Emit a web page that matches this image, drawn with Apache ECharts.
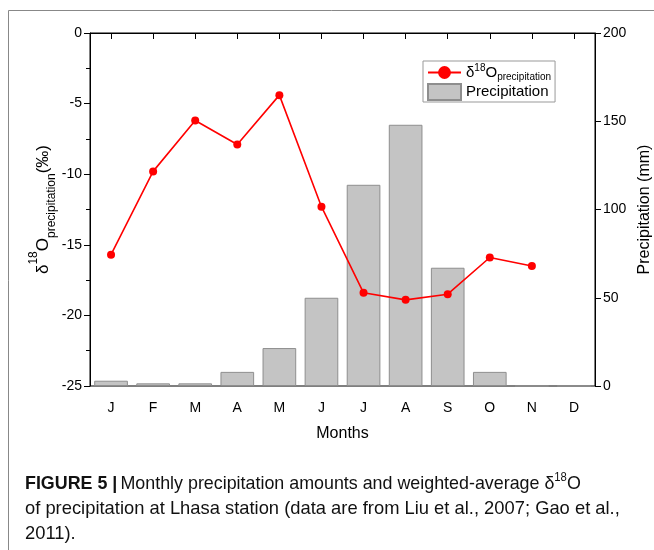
<!DOCTYPE html>
<html>
<head>
<meta charset="utf-8">
<script src="https://cdn.jsdelivr.net/npm/echarts@6/dist/echarts.min.js"></script>
<style>
  html, body { margin: 0; padding: 0; background: #fff; }
  #chart { width: 654px; height: 550px; }
</style>
</head>
<body>
<div id="chart"></div>
<script>
// Months along the x axis
const months = ['J', 'F', 'M', 'A', 'M', 'J', 'J', 'A', 'S', 'O', 'N', 'D'];
// Monthly precipitation amount (mm), right axis
const precipitation = [3, 1.5, 1.5, 8, 21.5, 50, 114, 148, 67, 8, 0, 0];
// Weighted-average δ18O of precipitation (‰), left axis
const delta18O = [-15.7, -9.8, -6.2, -7.9, -4.4, -12.3, -18.4, -18.9, -18.5, -15.9, -16.5, null];
// Axis tick settings
const leftTicks = { min: -25, max: 0, interval: 5 };
const rightTicks = { min: 0, max: 200, interval: 50 };

const FONT = 'Liberation Sans, Arial, sans-serif';
const chart = echarts.init(document.getElementById('chart'), null, { renderer: 'canvas' });

const axisCommon = {
  axisLine: { show: true, lineStyle: { color: '#000', width: 1 } },
  splitLine: { show: false },
  axisLabel: { color: '#000', fontFamily: FONT, fontSize: 14 }
};

// rich-text styles for "δ18O" with super/subscripts
function isoRich(main, small, lh) {
  return {
    m: { fontSize: main, fontFamily: FONT, color: '#000', lineHeight: lh },
    sup: { fontSize: small, fontFamily: FONT, color: '#000', verticalAlign: 'top', lineHeight: small + 1 },
    sub: { fontSize: small, fontFamily: FONT, color: '#000', verticalAlign: 'bottom', lineHeight: small + 2 },
    p: { fontSize: main, fontFamily: FONT, color: '#000', lineHeight: lh }
  };
}

chart.setOption({
  animation: false,
  backgroundColor: '#fff',
  grid: {
    left: 90, right: 59, top: 33, bottom: 164,
    outerBoundsMode: 'none',
    containLabel: false,
    show: true, borderColor: '#000', borderWidth: 1, backgroundColor: 'transparent'
  },
  legend: {
    orient: 'vertical',
    left: 423, top: 61,
    padding: [2, 4, 1, 4],
    itemGap: 1,
    itemWidth: 33, itemHeight: 16,
    borderColor: '#999', borderWidth: 1,
    backgroundColor: '#fff',
    data: [{ name: 'd18O' }, { name: 'Precipitation', icon: 'rect' }],
    formatter: function (name) {
      if (name === 'd18O') return '{m|δ}{sup|18}{m|O}{sub|precipitation}';
      return '{p|Precipitation}';
    },
    textStyle: { color: '#000', fontFamily: FONT, rich: isoRich(15, 10, 19) }
  },
  xAxis: {
    type: 'category',
    data: months,
    boundaryGap: true,
    ...axisCommon,
    axisTick: { show: true, alignWithLabel: true, length: 6, inside: false, lineStyle: { color: '#000' } },
    axisLabel: { color: '#000', fontFamily: FONT, fontSize: 14, margin: 15 },
    name: 'Months',
    nameLocation: 'middle',
    nameGap: 40,
    nameTextStyle: { color: '#000', fontFamily: FONT, fontSize: 16 }
  },
  yAxis: [
    {
      type: 'value',
      position: 'left',
      min: leftTicks.min, max: leftTicks.max, interval: leftTicks.interval,
      ...axisCommon,
      axisTick: { show: true, length: 6, inside: false, lineStyle: { color: '#000' } },
      minorTick: { show: true, splitNumber: 2, length: 4, lineStyle: { color: '#000' } },
      axisLabel: { color: '#000', fontFamily: FONT, fontSize: 14, margin: 8 },
      name: '{m|δ}{sup|18}{m|O}{sub|precipitation}{m|(‰)}',
      nameLocation: 'middle',
      nameGap: 32,
      nameMoveOverlap: false,
      nameTextStyle: { color: '#000', fontFamily: FONT, rich: isoRich(17, 12, 30) }
    },
    {
      type: 'value',
      position: 'right',
      min: rightTicks.min, max: rightTicks.max, interval: rightTicks.interval,
      ...axisCommon,
      axisTick: { show: true, length: 6, inside: false, lineStyle: { color: '#000' } },
      axisLabel: { color: '#000', fontFamily: FONT, fontSize: 14, margin: 8 },
      name: 'Precipitation (mm)',
      nameLocation: 'middle',
      nameGap: 42,
      nameRotate: 90,
      nameMoveOverlap: false,
      nameTextStyle: { color: '#000', fontFamily: FONT, fontSize: 16 }
    }
  ],
  series: [
    {
      name: 'Precipitation',
      type: 'bar',
      yAxisIndex: 1,
      data: precipitation,
      barWidth: '80%',
      itemStyle: { color: '#c4c4c4', borderColor: '#8e8e8e', borderWidth: 1 },
      z: 2
    },
    {
      name: 'd18O',
      type: 'line',
      yAxisIndex: 0,
      data: delta18O,
      symbol: 'circle',
      symbolSize: 8,
      lineStyle: { color: '#ff0000', width: 1.6 },
      itemStyle: { color: '#ff0000' },
      z: 5
    }
  ],
  graphic: [
    // page frame
    { type: 'line', shape: { x1: 8.5, y1: 10.5, x2: 654, y2: 10.5 }, style: { stroke: '#888', lineWidth: 1 } },
    { type: 'line', shape: { x1: 8.5, y1: 10.5, x2: 8.5, y2: 550 }, style: { stroke: '#888', lineWidth: 1 } },
    // figure caption
    {
      type: 'text', left: 25, top: 472, scaleX: 0.94,
      style: {
        text: '{b|FIGURE 5 |} {r|Monthly precipitation amounts and weighted-average δ}{s|18}{r|O}',
        rich: {
          b: { fontFamily: FONT, fontSize: 19, fontWeight: 'bold', fill: '#111', lineHeight: 23 },
          r: { fontFamily: FONT, fontSize: 19, fill: '#111', lineHeight: 23 },
          s: { fontFamily: FONT, fontSize: 12, fill: '#111', verticalAlign: 'top', lineHeight: 13 }
        }
      }
    },
    {
      type: 'text', left: 25, top: 499, scaleX: 0.966,
      style: { text: 'of precipitation at Lhasa station (data are from Liu et al., 2007; Gao et al.,', fontFamily: FONT, fontSize: 19, fill: '#111' }
    },
    {
      type: 'text', left: 25, top: 524, scaleX: 0.966,
      style: { text: '2011).', fontFamily: FONT, fontSize: 19, fill: '#111' }
    }
  ]
});
</script>
</body>
</html>
